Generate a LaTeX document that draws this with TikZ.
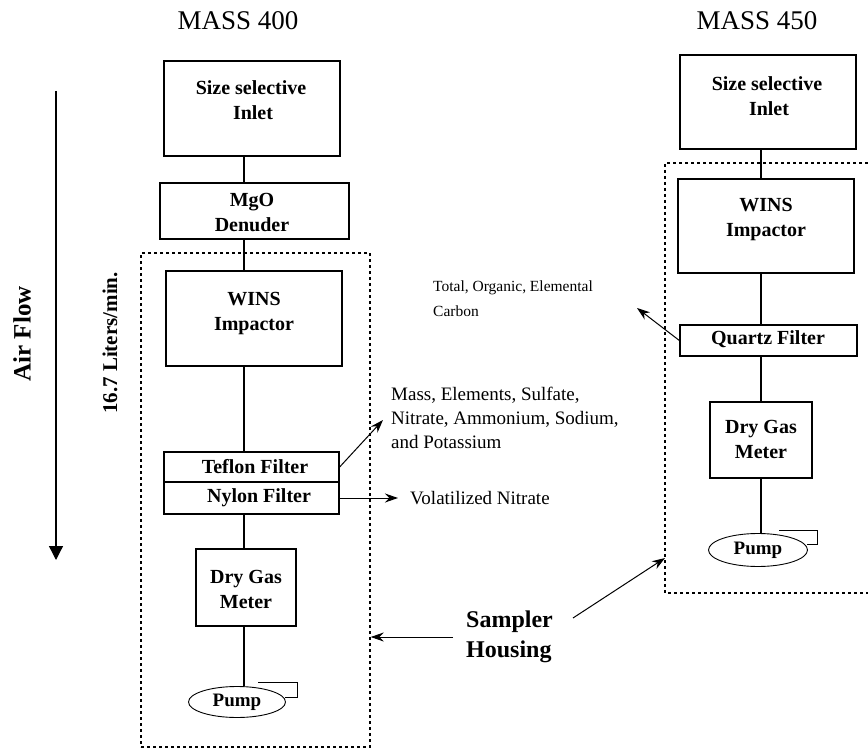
\documentclass[tikz,border=0pt]{standalone}
\usepackage{fontspec}
\setmainfont{Liberation Serif}
\usetikzlibrary{arrows.meta,shapes.geometric,calc}
\tikzset{
  boxnode/.style={draw, line width=1.3pt, inner sep=0pt},
  boxtext/.style={font=\bfseries\fontsize{20}{25}\selectfont, align=center, inner sep=0pt},
  pumpnode/.style={draw, ellipse, line width=0.9pt, inner sep=0pt, font=\bfseries\fontsize{19}{22}\selectfont},
  conn/.style={line width=1.3pt},
  housing/.style={line width=1.4pt, dash pattern=on 3pt off 3pt},
  lbl/.style={font=\fontsize{19}{24}\selectfont, align=left, inner sep=0pt},
  arr/.style={line width=1pt, -{Stealth[length=13pt,width=9pt]}},
  title/.style={font=\fontsize{27}{30}\selectfont, inner sep=0pt}
}
\begin{document}
\begin{tikzpicture}[x=1pt,y=-1pt]
\useasboundingbox (0,0) rectangle (868,749);
% titles
\node[title] (t400) at (238,21) {MASS 400};
\node[title] (t450) at (757,21) {MASS 450};

% air flow
\coordinate (afTop) at (56,91);
\coordinate (afBot) at (56,560);
\draw[line width=1.3pt, -{Triangle[length=14pt,width=14pt]}] (afTop) -- (afBot);
\node[rotate=90, font=\bfseries\fontsize{25}{26}\selectfont, inner sep=0pt] (airflow) at (22,334) {Air Flow};
\node[rotate=90, font=\bfseries\fontsize{21}{24}\selectfont, inner sep=0pt] (rate) at (110,343) {16.7 Liters/min.};

% housing boxes
\node[housing, draw, minimum width=229pt, minimum height=494pt, inner sep=0pt] (houseA) at (255.5,500) {};
\coordinate (hB1) at (880,163);
\coordinate (hB2) at (665,163);
\coordinate (hB3) at (665,593);
\coordinate (hB4) at (880,593);
\draw[housing] (hB1) -- (hB2) -- (hB3) -- (hB4);

% left column
\coordinate (cL) at (244,0);
\node[boxnode, minimum width=176pt, minimum height=95pt] (inA) at (252,108.5) {};
\node[boxtext] (inAt) at (251,100) {Size selective\\ \hspace{4pt}Inlet};
\node[boxnode, minimum width=189pt, minimum height=56pt] (denA) at (254.5,211) {};
\node[boxtext] (denAt) at (252,213) {MgO\\Denuder};
\node[boxnode, minimum width=176pt, minimum height=95pt] (winsA) at (254,318.5) {};
\node[boxtext] (winsAt) at (254,314) {WINS\\Impactor};
\node[boxnode, minimum width=175pt, minimum height=30pt] (tefA) at (251.5,467) {};
\node[boxtext] (tefAt) at (255,467) {Teflon Filter};
\node[boxnode, minimum width=175pt, minimum height=32pt] (nylA) at (251.5,498) {};
\node[boxtext] (nylAt) at (259,498) {Nylon Filter};
\node[boxnode, minimum width=100pt, minimum height=77pt] (metA) at (246,587.5) {};
\node[boxtext] (metAt) at (246,589) {Dry Gas\\Meter};
\node[pumpnode, minimum width=97pt, minimum height=31pt] (pumpA) at (237,702) {Pump};
\coordinate (brA1) at (258,682);
\coordinate (brA2) at (297,682);
\coordinate (brA3) at (297,697);
\coordinate (brA4) at (285,697);
\draw[line width=0.9pt] (brA1) -- (brA2) -- (brA3) -- (brA4);

\draw[conn] (inA.south -| cL) -- (denA.north -| cL);
\draw[conn] (denA.south -| cL) -- (winsA.north -| cL);
\draw[conn] (winsA.south -| cL) -- (tefA.north -| cL);
\draw[conn] (nylA.south -| cL) -- (metA.north -| cL);
\draw[conn] (metA.south -| cL) -- (pumpA.north -| cL);

% right column
\coordinate (cR) at (761,0);
\node[boxnode, minimum width=176pt, minimum height=94pt] (inB) at (768,102) {};
\node[boxtext] (inBt) at (767,96) {Size selective\\ \hspace{4pt}Inlet};
\node[boxnode, minimum width=176pt, minimum height=94pt] (winsB) at (766,226) {};
\node[boxtext] (winsBt) at (766,220) {WINS\\Impactor};
\node[boxnode, minimum width=177pt, minimum height=31pt] (qB) at (768.5,340.5) {};
\node[boxtext] (qBt) at (768,339) {Quartz Filter};
\node[boxnode, minimum width=102pt, minimum height=76pt] (metB) at (761,440) {};
\node[boxtext] (metBt) at (761,439) {Dry Gas\\Meter};
\node[pumpnode, minimum width=99pt, minimum height=33pt] (pumpB) at (758,550) {Pump};
\coordinate (brB1) at (779,530);
\coordinate (brB2) at (817,530);
\coordinate (brB3) at (817,544);
\coordinate (brB4) at (807,544);
\draw[line width=0.9pt] (brB1) -- (brB2) -- (brB3) -- (brB4);

\draw[conn] (inB.south -| cR) -- (winsB.north -| cR);
\draw[conn] (winsB.south -| cR) -- (qB.north -| cR);
\draw[conn] (qB.south -| cR) -- (metB.north -| cR);
\draw[conn] (metB.south -| cR) -- (pumpB.north -| cR);

% labels and arrows
\node[lbl, anchor=west] (massL) at (391,418) {Mass, Elements, Sulfate,\\Nitrate, Ammonium, Sodium,\\and Potassium};
\node[lbl, anchor=west] (volL) at (410,498) {Volatilized Nitrate};
\node[lbl, anchor=west, font=\fontsize{15.5}{25}\selectfont] (carbL) at (433,299) {Total, Organic, Elemental\\Carbon};
\coordinate (carbTip) at (637,308);
\draw[arr] (tefA.east) -- (383,420);
\draw[arr] (nylA.east) -- (398,498);
\draw[arr] (qB.west) -- (carbTip);

\node[font=\bfseries\fontsize{24}{30}\selectfont, align=left, inner sep=0pt, anchor=west] (samp) at (466,637) {Sampler\\Housing};
\coordinate (sampTail) at (573,618);
\coordinate (houseBTip) at (665,558);
\draw[arr] ($(samp.west)+(-13,0)$) -- (samp.west -| houseA.east);
\draw[arr] (sampTail) -- (houseBTip);
\end{tikzpicture}
\end{document}
